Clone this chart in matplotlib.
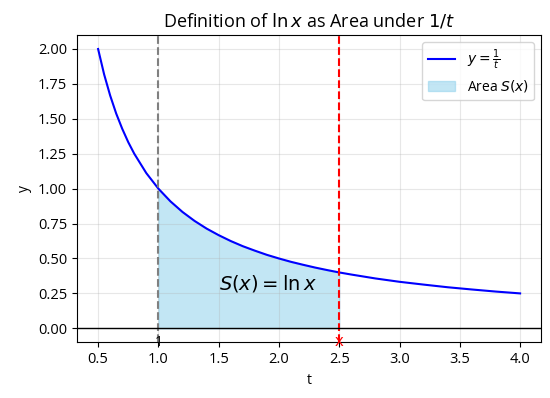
import matplotlib
matplotlib.use("Agg")
import matplotlib.pyplot as plt

plt.rcParams['font.family'] = ['Open Sans', 'DejaVu Sans']

# sample points of the curve
t_vals = [0.5, 0.55, 0.6, 0.65, 0.7, 0.75, 0.8, 0.9, 1.0, 1.1, 1.2, 1.3, 1.4, 1.5,
          1.6, 1.7, 1.8, 1.9, 2.0, 2.1, 2.2, 2.3, 2.4, 2.5, 2.6, 2.8, 3.0, 3.2,
          3.4, 3.6, 3.8, 4.0]
y_vals = [2.0, 1.818, 1.667, 1.538, 1.429, 1.333, 1.25, 1.111, 1.0, 0.909, 0.833,
          0.769, 0.714, 0.667, 0.625, 0.588, 0.556, 0.526, 0.5, 0.476, 0.455,
          0.435, 0.417, 0.4, 0.385, 0.357, 0.333, 0.313, 0.294, 0.278, 0.263, 0.25]
x_upper = 2.5
x_lower = 1.0

fill_t = [t for t in t_vals if x_lower <= t <= x_upper]
fill_y = [y for t, y in zip(t_vals, y_vals) if x_lower <= t <= x_upper]

fig, ax = plt.subplots(figsize=(5.5, 3.98), dpi=100)

ax.plot(t_vals, y_vals, color='blue', linewidth=1.5, label=r'$y=\frac{1}{t}$')
ax.fill_between(fill_t, fill_y, 0, color='skyblue', alpha=0.5, label=r'Area $S(x)$')
ax.axvline(x_lower, color='gray', linestyle='--', linewidth=1.5)
ax.axvline(x_upper, color='red', linestyle='--', linewidth=1.5)
ax.axhline(0, color='black', linewidth=1)

ax.text(1.5, 0.32, r'$S(x) = \ln x$', fontsize=14, ha='left', va='center')
ax.text(x_lower, -0.1, '1', ha='center', va='center', fontsize=10)
ax.text(x_upper, -0.1, 'x', ha='center', va='center', fontsize=12, color='red')

ax.set_title(r'Definition of $\ln x$ as Area under $1/t$', fontsize=13)
ax.set_xlabel('t')
ax.set_ylabel('y')
ax.tick_params(labelsize=10.5)
ax.grid(True, alpha=0.3)
ax.legend(loc='upper right')

fig.subplots_adjust(left=0.14, right=0.984, top=0.912, bottom=0.14)
fig.savefig('out.png')
